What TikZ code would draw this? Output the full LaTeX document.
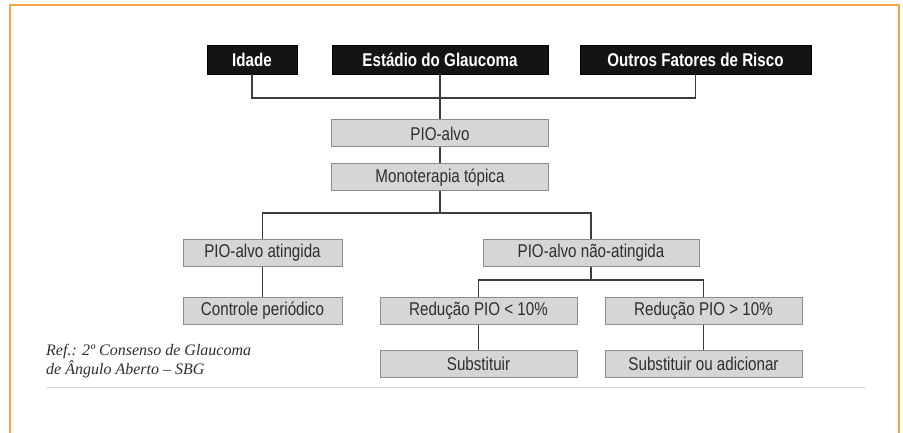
\documentclass[tikz,border=0pt]{standalone}
\usepackage{fontspec}
\setmainfont[FakeStretch=0.82]{Liberation Sans}
\newfontfamily\reffont{Liberation Serif}
\usetikzlibrary{positioning}
\definecolor{framecol}{HTML}{F7A54A}
\definecolor{boxgray}{HTML}{D6D6D6}
\definecolor{edgegray}{HTML}{8C8C8C}
\definecolor{linkgray}{HTML}{3C3C3C}
\definecolor{textgray}{HTML}{2E2E2E}
\begin{document}
\begin{tikzpicture}[x=1pt,y=-1pt,
  factorbox/.style={draw=black,fill=black!92,text=white,font=\bfseries\fontsize{18.5}{20}\selectfont,minimum height=29pt,inner sep=0pt},
  stagebox/.style={draw=edgegray,line width=1pt,fill=boxgray,text=textgray,font=\fontsize{18.5}{20}\selectfont,minimum height=27pt,inner sep=0pt},
  link/.style={draw=linkgray,line width=1.4pt}]
\useasboundingbox (0,0) rectangle (903,433);
% frame
\draw[framecol,line width=2pt] (10,433) -- (10,5) -- (899,5) -- (899,433);
% factors
\node[factorbox,minimum width=90pt] (idade) at (252,59.5) {Idade};
\node[factorbox,minimum width=216pt] (estadio) at (440,59.5) {Estádio do Glaucoma};
\node[factorbox,minimum width=231pt] (outros) at (695.5,59.5) {Outros Fatores de Risco};
% stages
\node[stagebox,minimum width=217pt] (pio) at (440,133.5) {PIO-alvo};
\node[stagebox,minimum width=217pt] (mono) at (440,177.5) {Monoterapia tópica};
\node[stagebox,minimum width=159pt] (atingida) at (262.5,252.5) {PIO-alvo atingida};
\node[stagebox,minimum width=216pt] (nao) at (591,252.5) {PIO-alvo não-atingida};
\node[stagebox,minimum width=159pt] (controle) at (262.5,310.5) {Controle periódico};
\node[stagebox,minimum width=197pt] (menor) at (478.5,310.5) {Redução PIO < 10\%};
\node[stagebox,minimum width=197pt] (maior) at (703.5,310.5) {Redução PIO > 10\%};
\node[stagebox,minimum width=197pt] (subst) at (478.5,363.5) {Substituir};
\node[stagebox,minimum width=197pt] (substad) at (703.5,363.5) {Substituir ou adicionar};
% joints
\coordinate (j1) at (440,98);
\coordinate (j2) at (440,213);
\coordinate (j3) at (591,280);
% connectors
\draw[link] (idade.south) |- (j1) -| (outros.south);
\draw[link] (estadio.south) -- (pio.north);
\draw[link] (pio.south) -- (mono.north);
\draw[link] (atingida.north) |- (j2) -| (nao.north);
\draw[link] (mono.south) -- (j2);
\draw[link] (atingida.south) -- (controle.north);
\draw[link] (menor.north) |- (j3) -| (maior.north);
\draw[link] (nao.south) -- (j3);
\draw[link] (menor.south) -- (subst.north);
\draw[link] (maior.south) -- (substad.north);
% reference
\node[anchor=west,align=left,text=textgray,font=\reffont\itshape\fontsize{16}{19.5}\selectfont,inner sep=0pt] (ref) at (46,361) {Ref.: 2º Consenso de Glaucoma\\de Ângulo Aberto – SBG};
\draw[gray!30,line width=1pt] (46,387) -- (866,387);
\end{tikzpicture}
\end{document}
